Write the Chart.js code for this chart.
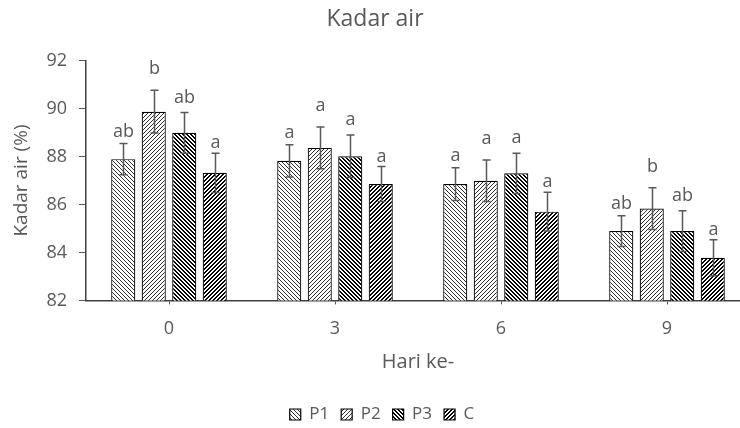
<!DOCTYPE html>
<html>
<head>
<meta charset="utf-8">
<script src="https://cdn.jsdelivr.net/npm/chart.js@4/dist/chart.umd.min.js"></script>
<style>
  html, body { margin: 0; padding: 0; background: #ffffff; }
  #wrap { width: 740px; height: 428px; overflow: hidden; position: relative; }
  canvas { display: block; }
</style>
</head>
<body>
<div id="wrap"><canvas id="chart" width="750" height="428"></canvas></div>
<script>
// Days of storage
const categories = ['0', '3', '6', '9'];

// Mean water content (%) per treatment
const p1Values = [87.89, 87.82, 86.85, 84.89];
const p2Values = [89.87, 88.36, 86.99, 85.83];
const p3Values = [88.99, 88.01, 87.30, 84.89];
const cValues  = [87.32, 86.85, 85.70, 83.78];

// Standard deviations
const p1Errors = [0.65, 0.67, 0.68, 0.64];
const p2Errors = [0.89, 0.87, 0.87, 0.87];
const p3Errors = [0.85, 0.89, 0.84, 0.85];
const cErrors  = [0.82, 0.73, 0.81, 0.75];

// Significance letters
const p1Letters = ['ab', 'a', 'a', 'ab'];
const p2Letters = ['b', 'a', 'a', 'b'];
const p3Letters = ['ab', 'a', 'a', 'ab'];
const cLetters  = ['a', 'a', 'a', 'a'];

// Y axis range
const yMin = 82, yMax = 92, yStep = 2;

const FONT = '"Open Sans", "Noto Sans", sans-serif';
const GREY = '#595959';

// Pixel hatch tiles: dir 'down' = "\" , 'up' = "/"
function hatch(dir, onSet, fg) {
  const size = 8;
  const c = document.createElement('canvas');
  c.width = size; c.height = size;
  const g = c.getContext('2d');
  const img = g.createImageData(size, size);
  const rgb = [parseInt(fg.slice(1, 3), 16), parseInt(fg.slice(3, 5), 16), parseInt(fg.slice(5, 7), 16)];
  for (let y = 0; y < size; y++) {
    for (let x = 0; x < size; x++) {
      const k = dir === 'down' ? ((x - y) % 4 + 4) % 4 : (x + y) % 4;
      const on = onSet.includes(k);
      const i = (y * size + x) * 4;
      img.data[i] = on ? rgb[0] : 255;
      img.data[i + 1] = on ? rgb[1] : 255;
      img.data[i + 2] = on ? rgb[2] : 255;
      img.data[i + 3] = 255;
    }
  }
  g.putImageData(img, 0, 0);
  return g.createPattern(c, 'repeat');
}

const ctx = document.getElementById('chart').getContext('2d');

const patP1 = hatch('down', [0], '#303030');
const patP2 = hatch('up', [0], '#303030');
const patP3 = hatch('down', [0, 1], '#000000');
const patC  = hatch('up', [0, 1], '#000000');

function series(label, data, pattern, errors, letters, letterGap) {
  return {
    label, data,
    backgroundColor: pattern,
    borderColor: '#000000',
    borderWidth: 1.2,
    errors, letters, letterGap
  };
}

// Error bars with caps and significance letters above them
const errorBarPlugin = {
  id: 'errorBars',
  afterDatasetsDraw(chart) {
    const yScale = chart.scales.y;
    const c = chart.ctx;
    c.save();
    c.strokeStyle = GREY;
    c.lineWidth = 1.5;
    c.fillStyle = GREY;
    c.font = '18px ' + FONT;
    c.textAlign = 'center';
    c.textBaseline = 'middle';
    chart.data.datasets.forEach((ds, i) => {
      const meta = chart.getDatasetMeta(i);
      if (meta.hidden) return;
      meta.data.forEach((bar, j) => {
        const v = ds.data[j], e = ds.errors[j];
        const x = Math.round(bar.x) + 0.5;
        const yt = yScale.getPixelForValue(v + e);
        const yb = yScale.getPixelForValue(v - e);
        const cap = 4;
        c.beginPath();
        c.moveTo(x, yt); c.lineTo(x, yb);
        c.moveTo(x - cap, yt); c.lineTo(x + cap, yt);
        c.moveTo(x - cap, yb); c.lineTo(x + cap, yb);
        c.stroke();
        c.fillText(ds.letters[j], x, yt - ds.letterGap);
      });
    });
    c.restore();
  }
};

// Nudge the legend row slightly to the right of the canvas centre
const legendShift = {
  id: 'legendShift',
  afterLayout(chart) {
    if (chart.legend) { chart.legend.left += 7; chart.legend.right += 7; }
  }
};

new Chart(ctx, {
  type: 'bar',
  data: {
    labels: categories,
    datasets: [
      series('P1', p1Values, patP1, p1Errors, p1Letters, 12),
      series('P2', p2Values, patP2, p2Errors, p2Letters, 21),
      series('P3', p3Values, patP3, p3Errors, p3Letters, 15),
      series('C',  cValues,  patC,  cErrors,  cLetters, 10)
    ]
  },
  plugins: [errorBarPlugin, legendShift],
  options: {
    responsive: false,
    animation: false,
    devicePixelRatio: 1,
    layout: { padding: { top: 0, right: 0, bottom: -5, left: 0 } },
    datasets: {
      bar: { categoryPercentage: 0.735, barPercentage: 0.79 }
    },
    plugins: {
      title: {
        display: true,
        text: 'Kadar air',
        color: GREY,
        font: { family: FONT, size: 23, weight: 'normal' },
        padding: { top: 6, bottom: 27 }
      },
      legend: {
        position: 'bottom',
        labels: {
          color: GREY,
          font: { family: FONT, size: 17 },
          boxWidth: 11,
          boxHeight: 11,
          padding: 12
        }
      },
      tooltip: { enabled: false }
    },
    scales: {
      x: {
        grid: { display: true, drawOnChartArea: false, offset: false, tickLength: 4, color: GREY },
        border: { color: '#404040', width: 1.5 },
        ticks: { color: GREY, font: { family: FONT, size: 18 }, padding: 14 },
        title: {
          display: true, text: 'Hari ke-', color: GREY,
          font: { family: FONT, size: 20 },
          padding: { top: -4, bottom: 20 }
        }
      },
      y: {
        min: yMin, max: yMax,
        grid: { display: true, drawOnChartArea: false, tickLength: 7, color: GREY },
        border: { color: '#404040', width: 1.5 },
        ticks: { stepSize: yStep, color: GREY, font: { family: FONT, size: 18 }, padding: 12 },
        title: {
          display: true, text: 'Kadar air (%)', color: GREY,
          font: { family: FONT, size: 19 },
          padding: { top: 10, bottom: 6 }
        },
        afterFit(scale) { scale.width = 86; }
      }
    }
  }
});
</script>
</body>
</html>
